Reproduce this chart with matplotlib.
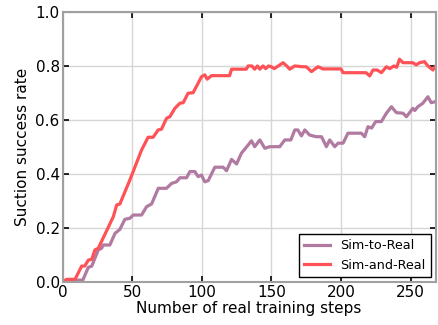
#!/usr/bin/env python3
"""Suction success rate vs. number of real training steps."""

import matplotlib
matplotlib.use('Agg')
import matplotlib.pyplot as plt

# Sim-to-Real curve (step, success rate)
s2r_steps = [0, 5, 14.6, 18.5, 21, 23.3, 25.7, 28.1, 29.3, 34, 37.7, 41.2, 44.8, 48.4,
             50.8, 56.8, 60.4, 64, 68.8, 74.7, 78.3, 81.9, 84.3, 89.1, 91.5, 95, 97.4,
             99.8, 102.2, 104.6, 109.4, 115.4, 117.8, 121.4, 125, 128.5, 133.3, 135.7,
             138, 141.7, 145.3, 148.8, 156, 159.6, 164, 166.8, 169, 171.6, 174, 177.5,
             182.3, 186, 189.5, 191.9, 195.5, 197.9, 201.5, 205, 214.6, 217, 219.4, 222,
             224.9, 229, 232.6, 236.2, 239.8, 244.5, 247, 251.6, 253, 255.2, 258.8,
             262.4, 264.8, 268]
s2r_rate = [0.0, 0.007, 0.007, 0.054, 0.059, 0.088, 0.119, 0.125, 0.137, 0.137, 0.18,
            0.195, 0.232, 0.236, 0.248, 0.248, 0.279, 0.289, 0.347, 0.347, 0.365, 0.371,
            0.386, 0.386, 0.409, 0.409, 0.39, 0.396, 0.371, 0.375, 0.425, 0.425, 0.412,
            0.454, 0.437, 0.477, 0.507, 0.523, 0.501, 0.526, 0.495, 0.501, 0.501, 0.526,
            0.526, 0.563, 0.563, 0.541, 0.563, 0.544, 0.538, 0.538, 0.501, 0.526, 0.501,
            0.514, 0.514, 0.551, 0.551, 0.538, 0.575, 0.57, 0.594, 0.594, 0.625, 0.649,
            0.627, 0.625, 0.612, 0.643, 0.635, 0.649, 0.662, 0.686, 0.664, 0.668]

# Sim-and-Real curve (step, success rate)
sar_steps = [0, 3, 9, 13.8, 16, 18.5, 21, 23.3, 25.7, 36.5, 38.9, 41.2, 48.4, 56.8,
             61.5, 65.1, 68.7, 71.1, 74.7, 77.1, 80.7, 84.3, 86.7, 90.2, 93.8, 97.4,
             99.8, 102.2, 103.9, 107, 120, 121.4, 132, 133.3, 136, 138, 140, 141.7, 144,
             146, 148, 150, 152, 155, 158.4, 161, 163.2, 166.8, 172.7, 175, 178.8,
             183.5, 187, 200, 201.5, 218, 220.6, 223, 226, 229, 232.6, 235, 238, 240,
             242, 244.5, 251.6, 254, 256.5, 260, 262.4, 266, 268]
sar_rate = [0.0, 0.01, 0.01, 0.059, 0.059, 0.081, 0.084, 0.119, 0.125, 0.242, 0.285,
            0.289, 0.378, 0.489, 0.536, 0.536, 0.563, 0.566, 0.606, 0.612, 0.643, 0.662,
            0.664, 0.699, 0.701, 0.736, 0.76, 0.767, 0.751, 0.764, 0.764, 0.788, 0.788,
            0.80, 0.80, 0.788, 0.80, 0.788, 0.80, 0.79, 0.80, 0.797, 0.79, 0.80, 0.812,
            0.80, 0.788, 0.80, 0.797, 0.797, 0.779, 0.797, 0.789, 0.789, 0.775, 0.775,
            0.763, 0.785, 0.785, 0.775, 0.797, 0.79, 0.80, 0.795, 0.825, 0.812, 0.812,
            0.804, 0.812, 0.816, 0.80, 0.785, 0.80]

plt.rcParams['font.family'] = ['DejaVu Sans']

fig = plt.figure(figsize=(4.38, 3.25), dpi=100)
ax = fig.add_axes([0.1427, 0.1323, 0.852, 0.831])

ax.plot(s2r_steps, s2r_rate, color='#B07AA1', linewidth=2.3, label='Sim-to-Real')
ax.plot(sar_steps, sar_rate, color='#FF5257', linewidth=2.3, label='Sim-and-Real')

ax.set_xlim(0, 268)
ax.set_ylim(0, 1.0)
ax.set_xticks([0, 50, 100, 150, 200, 250])
ax.set_yticks([0.0, 0.2, 0.4, 0.6, 0.8, 1.0])
ax.grid(True, color='#d6d6d6', linewidth=1.0)
ax.set_axisbelow(True)
for spine in ax.spines.values():
    spine.set_color('#a0a0a0')
    spine.set_linewidth(1.5)
ax.tick_params(direction='in', top=True, right=True, length=4, width=1.2,
               color='black', labelsize=11, pad=2)

ax.set_xlabel('Number of real training steps', fontsize=11, labelpad=1)
ax.set_ylabel('Suction success rate', fontsize=11, labelpad=4)

leg = ax.legend(loc='lower right', fontsize=9.2, fancybox=False, framealpha=1.0,
                borderaxespad=0.4, handlelength=2.0)
leg.get_frame().set_edgecolor('black')
leg.get_frame().set_linewidth(1.0)

fig.savefig('out.png', dpi=100)
